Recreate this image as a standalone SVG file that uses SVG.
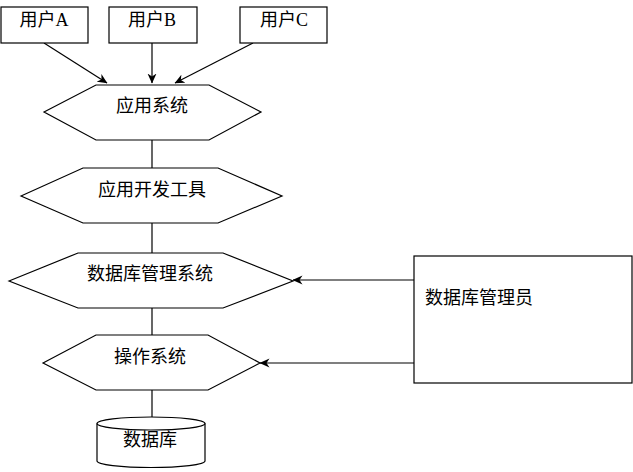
<svg xmlns="http://www.w3.org/2000/svg" width="633" height="472" viewBox="0 0 633 472">
<style>
.s{fill:#fff;stroke:#000;stroke-width:1.2}
.c{fill:none;stroke:#000;stroke-width:1.2}
.t{font-family:"Liberation Serif","Noto Sans CJK SC",serif;font-size:18px;fill:#000}
.m{text-anchor:middle;dominant-baseline:central}
</style>
<defs>
<marker id="ah" viewBox="0 0 10 10" refX="9.5" refY="5" markerWidth="10" markerHeight="10" markerUnits="userSpaceOnUse" orient="auto">
<path d="M0,0.5 L10,5 L0,9.5 L3,5 Z" fill="#000"/>
</marker>
</defs>
<rect width="633" height="472" fill="#fff"/>
<g id="connectors">
<line class="c" x1="44" y1="43" x2="107" y2="83" marker-end="url(#ah)"/>
<line class="c" x1="152" y1="43" x2="152" y2="83" marker-end="url(#ah)"/>
<line class="c" x1="253" y1="43" x2="175" y2="83" marker-end="url(#ah)"/>
<line class="c" x1="152" y1="140" x2="152" y2="168"/>
<line class="c" x1="152" y1="223" x2="152" y2="253"/>
<line class="c" x1="152" y1="308" x2="152" y2="335"/>
<line class="c" x1="152" y1="390" x2="152" y2="417"/>
<line class="c" x1="414" y1="280" x2="293" y2="280" marker-end="url(#ah)"/>
<line class="c" x1="414" y1="363" x2="260" y2="363" marker-end="url(#ah)"/>
</g>
<g id="userA">
<rect class="s" x="1" y="7" width="87" height="36"/>
<text class="t m" x="44" y="20">用户A</text>
</g>
<g id="userB">
<rect class="s" x="109" y="7" width="88" height="36"/>
<text class="t m" x="152" y="20">用户B</text>
</g>
<g id="userC">
<rect class="s" x="240" y="7" width="87" height="36"/>
<text class="t m" x="284" y="20">用户C</text>
</g>
<g id="app">
<polygon class="s" points="44,112 96,85 209,85 261,112 209,140 96,140"/>
<text class="t m" x="152" y="106">应用系统</text>
</g>
<g id="devtools">
<polygon class="s" points="21,196 83,168 218,168 282,196 218,223 83,223"/>
<text class="t m" x="152" y="190">应用开发工具</text>
</g>
<g id="dbms">
<polygon class="s" points="9,281 78,253 223,253 293,281 223,308 78,308"/>
<text class="t m" x="150" y="274">数据库管理系统</text>
</g>
<g id="os">
<polygon class="s" points="43,363 96,335 208,335 260,363 208,390 96,390"/>
<text class="t m" x="150" y="357">操作系统</text>
</g>
<g id="db">
<path class="s" d="M97,423.5 L97,461 A54,6.5 0 0 0 205,461 L205,423.5 A54,6.5 0 0 0 97,423.5 Z"/>
<path class="c" d="M97,423.5 A54,6.5 0 0 0 205,423.5"/>
<text class="t m" x="150" y="440">数据库</text>
</g>
<g id="dba">
<rect class="s" x="414" y="256" width="218" height="127"/>
<text class="t" x="425" y="304">数据库管理员</text>
</g>
</svg>
